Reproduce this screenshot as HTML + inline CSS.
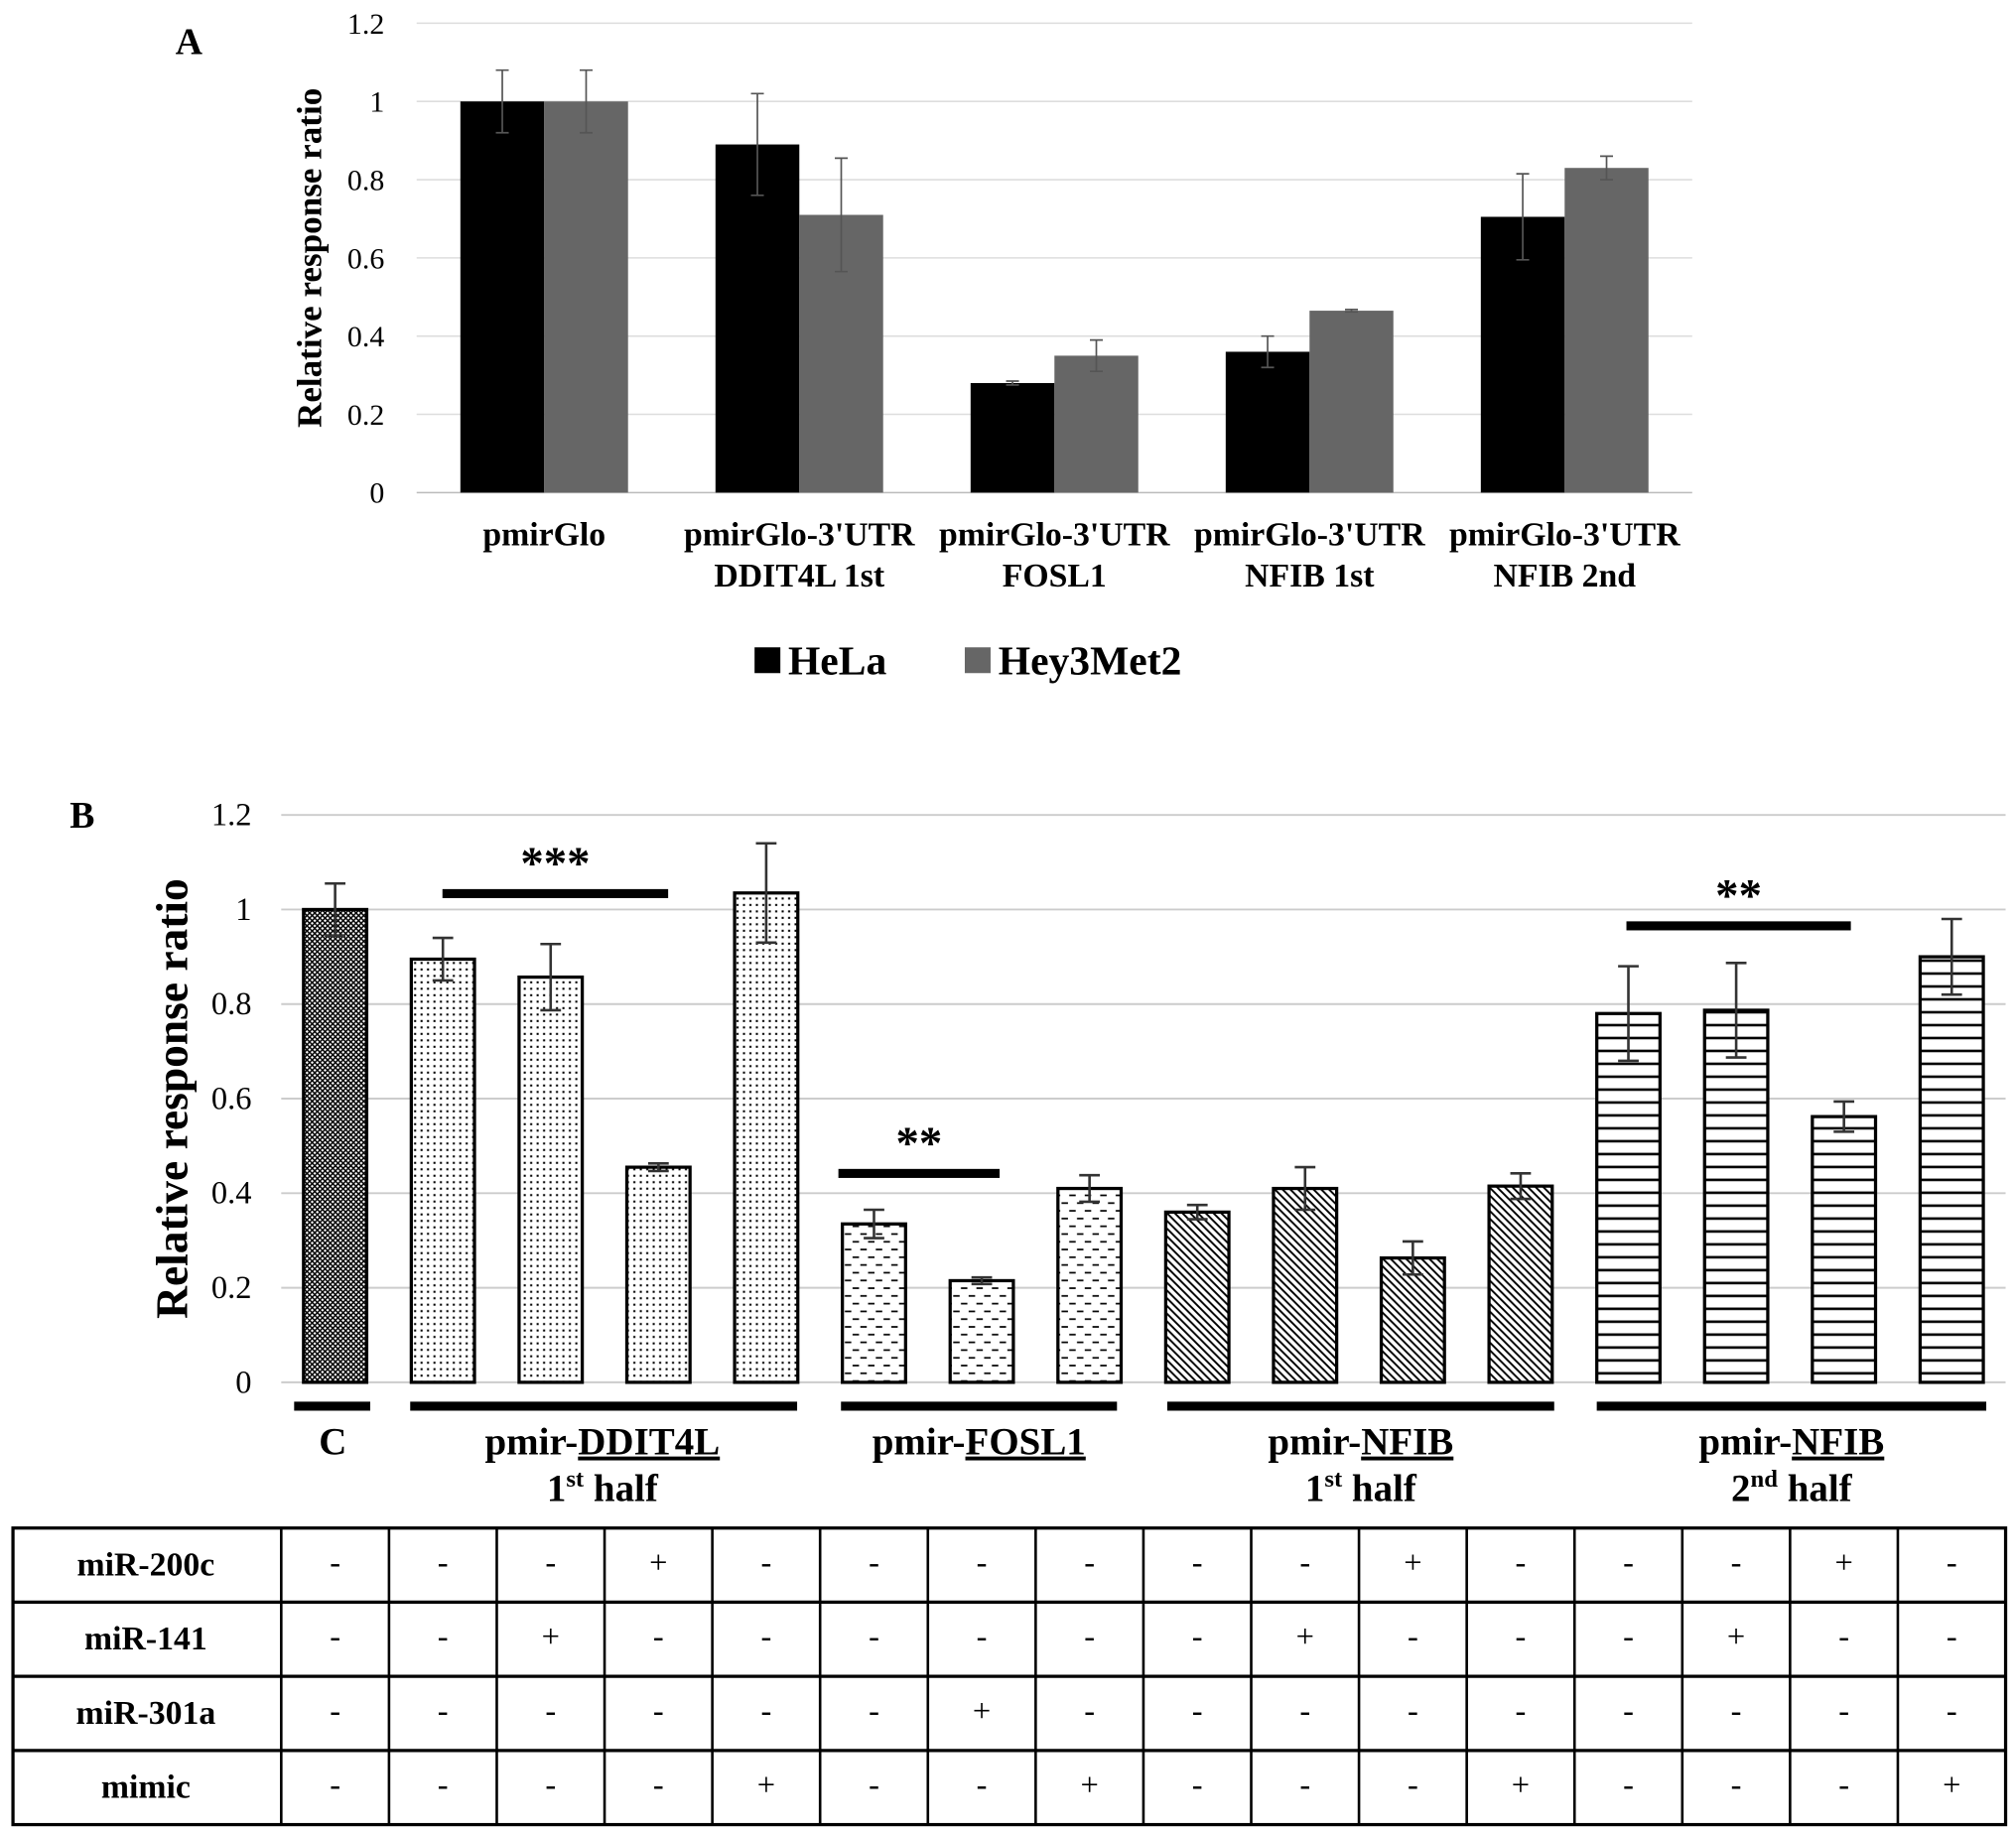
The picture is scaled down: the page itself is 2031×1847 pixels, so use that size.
<!DOCTYPE html>
<html><head><meta charset="utf-8">
<style>
html,body{margin:0;padding:0;background:#fff;}
svg{display:block;}
text{font-family:"Liberation Serif",serif;font-weight:bold;fill:#000;}
</style></head>
<body>
<svg id="root" width="2031" height="1847" viewBox="0 0 1563 1421.5" xmlns="http://www.w3.org/2000/svg">
<defs>
<pattern id="pCross" width="4" height="4" patternUnits="userSpaceOnUse">
<rect width="4" height="4" fill="#fff"/><path d="M0,0L4,4M4,0L0,4" stroke="#000" stroke-width="1.1"/></pattern>
<pattern id="pDots" width="5" height="5" patternUnits="userSpaceOnUse">
<rect width="5" height="5" fill="#fff"/><rect x="1" y="1" width="1.6" height="1.6" fill="#000"/></pattern>
<pattern id="pDash" width="12" height="12" patternUnits="userSpaceOnUse">
<rect width="12" height="12" fill="#fff"/><path d="M1,3h5M7,9h5M-5,9h5" stroke="#000" stroke-width="1.3"/></pattern>
<pattern id="pDiag" width="6" height="6" patternUnits="userSpaceOnUse">
<rect width="6" height="6" fill="#fff"/><path d="M0,0L6,6M-3,3L3,9M3,-3L9,3" stroke="#000" stroke-width="1.5"/></pattern>
<pattern id="pHor" width="10" height="10" patternUnits="userSpaceOnUse">
<rect width="10" height="10" fill="#fff"/><path d="M0,5h10" stroke="#000" stroke-width="2"/></pattern>
</defs>
<g id="chartA"></g>
<g id="chartB"></g>
<g id="table"></g>
</svg>
<script>
// ---- Chart A data ----
const catsA = [["pmirGlo",""],["pmirGlo-3'UTR","DDIT4L 1st"],["pmirGlo-3'UTR","FOSL1"],["pmirGlo-3'UTR","NFIB 1st"],["pmirGlo-3'UTR","NFIB 2nd"]];
const helaVals = [1, 0.89, 0.28, 0.36, 0.705];
const helaErr = [0.08, 0.13, 0.005, 0.04, 0.11];
const heyVals = [1, 0.71, 0.35, 0.465, 0.83];
const heyErr = [0.08, 0.145, 0.04, 0.003, 0.03];
const ticksA = [0, 0.2, 0.4, 0.6, 0.8, 1, 1.2];
const tickLabelsA = ["0","0.2","0.4","0.6","0.8","1","1.2"];
// ---- Chart B data ----
const barsB = [1.0,0.895,0.857,0.455,1.035,0.335,0.215,0.41,0.36,0.41,0.263,0.415,0.78,0.787,0.562,0.9];
const errB = [0.055,0.045,0.07,0.008,0.105,0.03,0.007,0.028,0.015,0.045,0.035,0.027,0.1,0.1,0.032,0.08];
const groupOfBar = [0,1,1,1,1,2,2,2,3,3,3,3,4,4,4,4];
const groupPatterns = ["pCross","pDots","pDash","pDiag","pHor"];
const ticksB = [0,0.2,0.4,0.6,0.8,1,1.2];
const tickLabelsB = ["0","0.2","0.4","0.6","0.8","1","1.2"];
const rowNames = ["miR-200c","miR-141","miR-301a","mimic"];
const rowVals = [
"---+------+---+-",
"--+------+---+--",
"------+---------",
"----+--+---+---+"];

const NS="http://www.w3.org/2000/svg";
function mk(parent,tag,attrs,text){const e=document.createElementNS(NS,tag);for(const k in attrs)e.setAttribute(k,attrs[k]);if(text!==undefined)e.textContent=text;parent.appendChild(e);return e;}

// ---- Chart A ----
(function(){
const g=document.getElementById('chartA');
const x0=323,x1=1312,yA=v=>382-v*(364/1.2);
ticksA.forEach((t,i)=>{
 const gl=mk(g,'line',{x1:x0,x2:x1,y1:yA(t),y2:yA(t),stroke:i==0?'#bbb':'#ddd','stroke-width':1.2});
 
 
 const tl=mk(g,'text',{x:298,y:yA(t)+8,'text-anchor':'end','font-size':23,style:'font-weight:normal'},tickLabelsA[i]);
 
 
});
const gw=(x1-x0)/catsA.length;
catsA.forEach((c,i)=>{
 const cx=x0+gw*(i+0.5);
 const b1=mk(g,'rect',{x:cx-65,y:yA(helaVals[i]),width:65,height:yA(0)-yA(helaVals[i]),fill:'#000'});
 
 
 const b2=mk(g,'rect',{x:cx,y:yA(heyVals[i]),width:65,height:yA(0)-yA(heyVals[i]),fill:'#666'});
 
 
 [[cx-32.5,helaVals[i],helaErr[i]],[cx+32.5,heyVals[i],heyErr[i]]].forEach(([x,v,e])=>{
  const eb=mk(g,'path',{d:`M${x},${yA(v+e)}V${yA(v-e)}M${x-5},${yA(v+e)}h10M${x-5},${yA(v-e)}h10`,stroke:'#555','stroke-width':1.3,fill:'none'});
  
  
 });
 const l1=mk(g,'text',{x:cx,y:423,'text-anchor':'middle','font-size':26},c[0]);
 
 
 if(c[1]){const l2=mk(g,'text',{x:cx,y:455,'text-anchor':'middle','font-size':26},c[1]);
 
 }
});
const yt=mk(g,'text',{x:0,y:0,transform:'translate(249,200) rotate(-90)','text-anchor':'middle','font-size':27},'Relative response ratio');


const pa=mk(g,'text',{x:136,y:42,'font-size':29},'A');


const lg=mk(g,'g',{});


const s1=mk(lg,'rect',{x:585,y:502,width:20,height:20,fill:'#000'});


const t1=mk(lg,'text',{x:611,y:523,'font-size':32},'HeLa');


const s2=mk(lg,'rect',{x:748,y:502,width:20,height:20,fill:'#666'});


const t2=mk(lg,'text',{x:774,y:523,'font-size':32},'Hey3Met2');


})();

// ---- Chart B ----
(function(){
const g=document.getElementById('chartB');
const x0=218,x1=1555,yB=v=>1072-v*(440/1.2);
const cw=(x1-x0)/barsB.length;
const xc=i=>x0+cw*(i+0.5);
ticksB.forEach((t,i)=>{
 const gl=mk(g,'line',{x1:x0,x2:x1,y1:yB(t),y2:yB(t),stroke:'#ccc','stroke-width':1.5});
 
 
 const tl=mk(g,'text',{x:195,y:yB(t)+8,'text-anchor':'end','font-size':25,style:'font-weight:normal'},tickLabelsB[i]);
 
 
});
barsB.forEach((v,i)=>{
 const cx=xc(i);
 const b=mk(g,'rect',{x:cx-24.5,y:yB(v),width:49,height:yB(0)-yB(v),fill:`url(#${groupPatterns[groupOfBar[i]]})`,stroke:'#000','stroke-width':2.5});
 
 
 const e=errB[i];
 const eb=mk(g,'path',{d:`M${cx},${yB(v+e)}V${yB(v-e)}M${cx-8},${yB(v+e)}h16M${cx-8},${yB(v-e)}h16`,stroke:'#333','stroke-width':2,fill:'none'});
 
 
});
const groups=[[228,287],[318,618],[652,866],[905,1205],[1238,1540]];
groups.forEach(([a,b])=>{const r=mk(g,'rect',{x:a,y:1087,width:b-a,height:7,fill:'#000'});
 
 });
const labels=[[258,'C',null],[467,'pmir-<u>DDIT4L</u>','1st'],[759,'pmir-<u>FOSL1</u>',null],[1055,'pmir-<u>NFIB</u>','1st'],[1389,'pmir-<u>NFIB</u>','2nd']];
labels.forEach(([x,l,h])=>{
 const t=mk(g,'text',{x:x,y:1128,'text-anchor':'middle','font-size':30});
 
 
 const m=l.match(/^(.*?)<u>(.*)<\/u>$/);
 if(m){mk(t,'tspan',{},m[1]);mk(t,'tspan',{'text-decoration':'underline'},m[2]);}else t.textContent=l;
 if(h){const t2=mk(g,'text',{x:x,y:1164,'text-anchor':'middle','font-size':30});
  
  
  mk(t2,'tspan',{},h.slice(0,1));mk(t2,'tspan',{'font-size':19,dy:-11},h.slice(1));mk(t2,'tspan',{dy:11},' half');}
});
const sig=[[343,518,693,'***'],[650,775,910,'**'],[1261,1435,718,'**']];
sig.forEach(([a,b,y,s])=>{
 const r=mk(g,'rect',{x:a,y:y-3.5,width:b-a,height:7,fill:'#000'});
 
 
 const t=mk(g,'text',{x:(a+b)/2,y:y-12,'text-anchor':'middle','font-size':36},s);
 
 
});
const yt=mk(g,'text',{x:0,y:0,transform:'translate(145,852) rotate(-90)','text-anchor':'middle','font-size':35},'Relative response ratio');


const pb=mk(g,'text',{x:54,y:642,'font-size':29},'B');


})();

// ---- Table ----
(function(){
const g=document.getElementById('table');
const x0=10,xs=218,x1=1555,y0=1185,rh=57.5;
const cw=(x1-xs)/16;
const border=mk(g,'rect',{x:x0,y:y0,width:x1-x0,height:rh*4,fill:'none',stroke:'#000','stroke-width':2.5});


for(let r=1;r<4;r++){const l=mk(g,'line',{x1:x0,x2:x1,y1:y0+rh*r,y2:y0+rh*r,stroke:'#000','stroke-width':2.5});
 
 }
for(let c=0;c<16;c++){const l=mk(g,'line',{x1:xs+cw*c,x2:xs+cw*c,y1:y0,y2:y0+rh*4,stroke:'#000','stroke-width':2});
 
 }
rowNames.forEach((n,r)=>{
 const cy=y0+rh*r+rh/2+8;
 const t=mk(g,'text',{x:113,y:cy,'text-anchor':'middle','font-size':26},n);
 
 
 rowVals[r].split('').forEach((s,c)=>{
  const v=mk(g,'text',{x:xs+cw*(c+0.5),y:cy-2,'text-anchor':'middle','font-size':25,style:'font-weight:normal'},s);
  
  
 });
});
})();
</script>
</body></html>
